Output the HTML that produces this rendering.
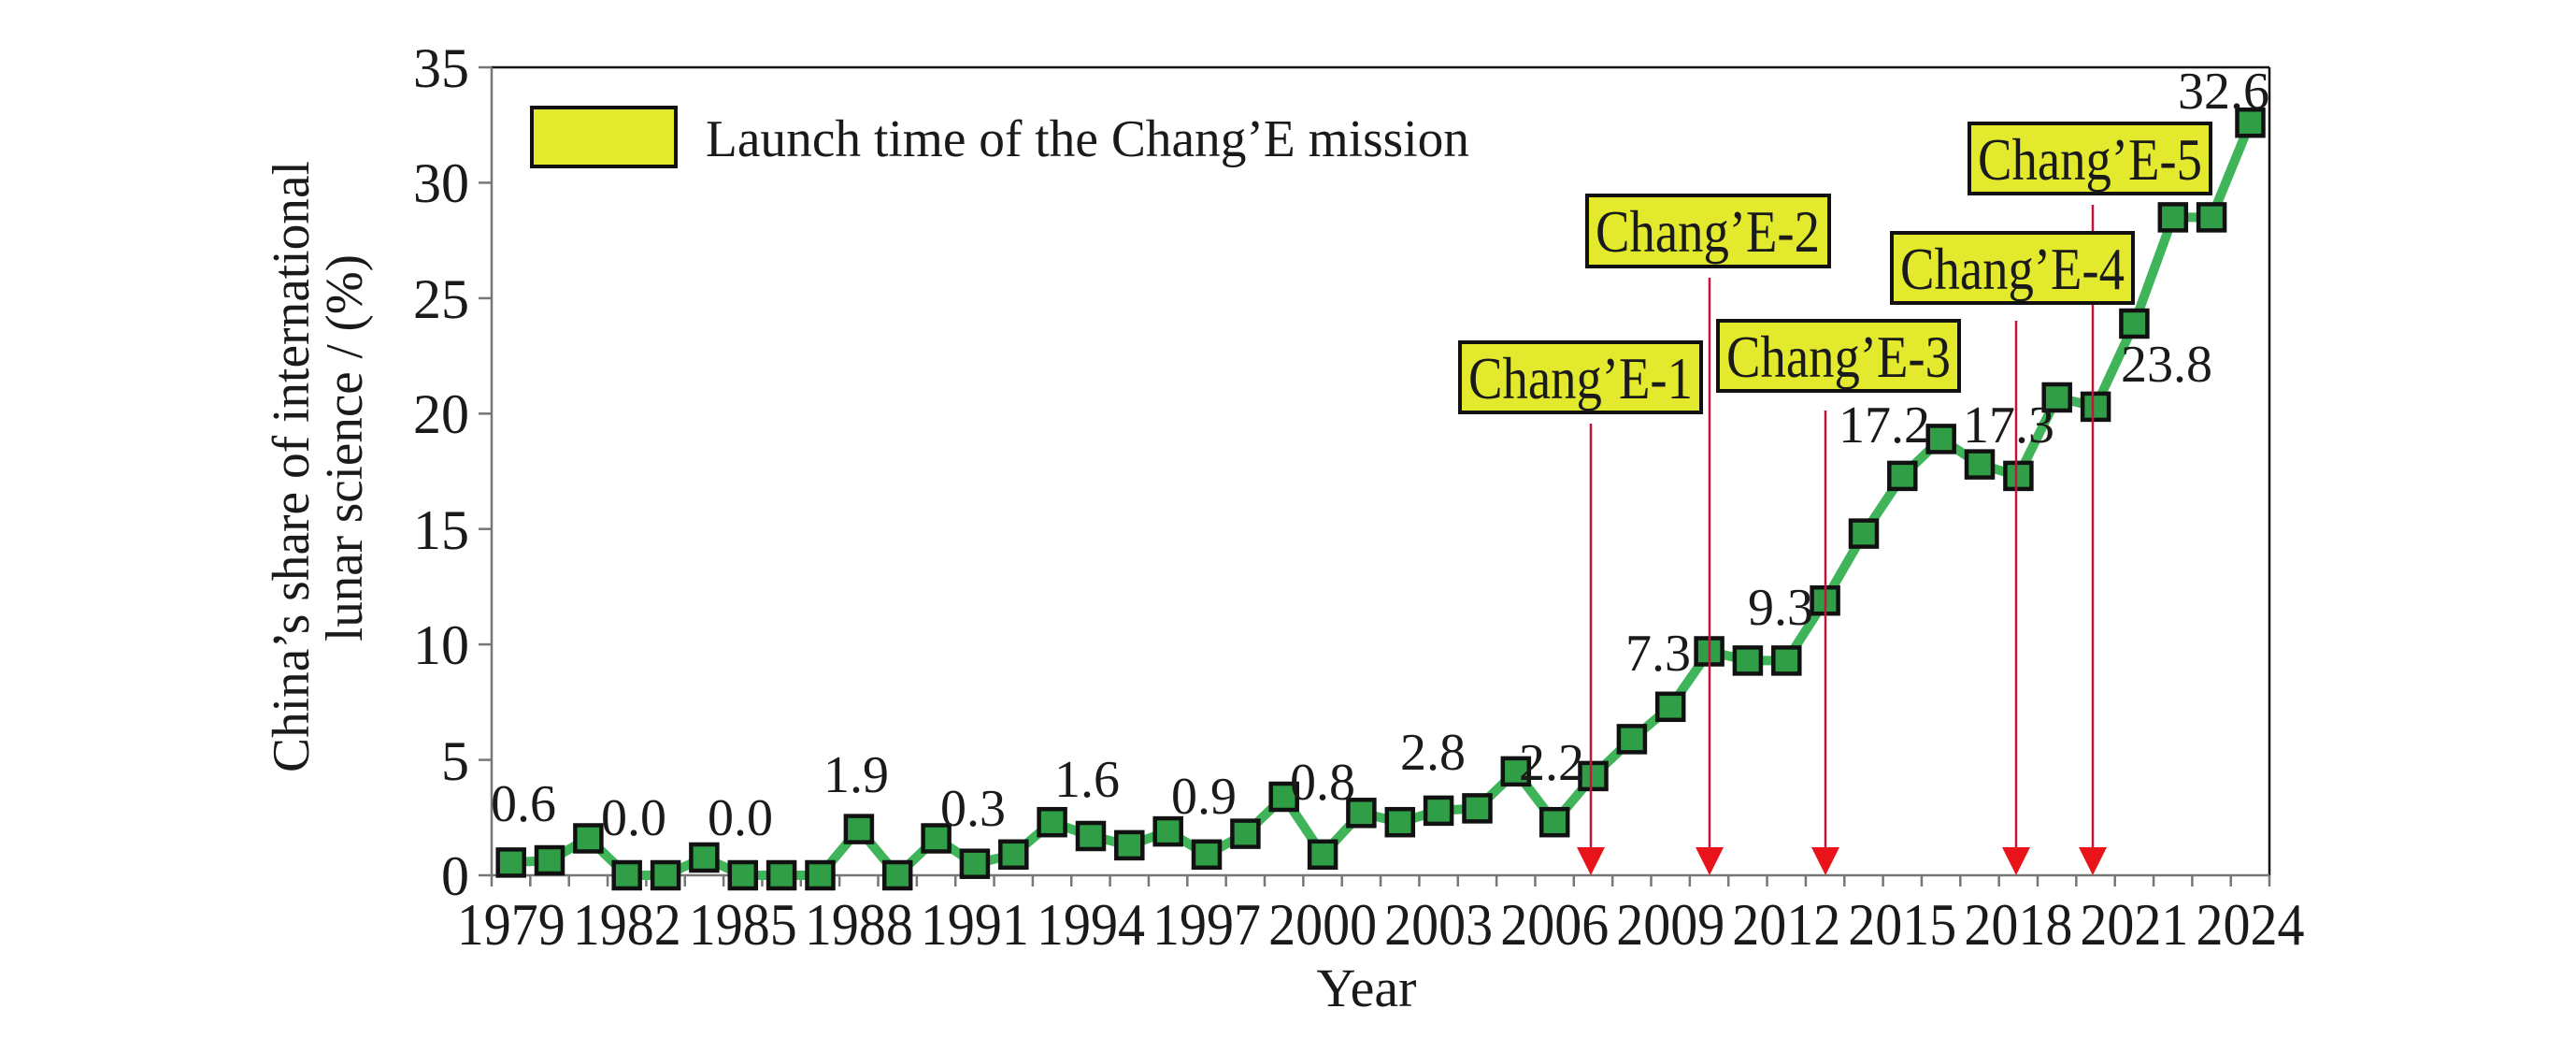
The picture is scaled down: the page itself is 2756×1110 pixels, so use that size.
<!DOCTYPE html>
<html><head><meta charset="utf-8"><style>
html,body{margin:0;padding:0;background:#fff;}
svg{display:block;}
text{font-family:"Liberation Serif",serif;fill:#1a1a1a;}
</style></head><body>
<svg width="2756" height="1110" viewBox="0 0 2756 1110" xmlns="http://www.w3.org/2000/svg">
<defs>
<rect id="m" x="-14" y="-14" width="28" height="28" fill="#2f9e47" stroke="#111" stroke-width="4.5"/>
</defs>
<line x1="526" y1="72" x2="2428" y2="72" stroke="#111" stroke-width="2.5"/>
<line x1="2428" y1="72" x2="2428" y2="936" stroke="#111" stroke-width="2.5"/>
<line x1="526" y1="72" x2="526" y2="936" stroke="#777" stroke-width="2.5"/>
<line x1="512" y1="936" x2="2428" y2="936" stroke="#777" stroke-width="2.5"/>
<g stroke="#777" stroke-width="2.5">
<line x1="512" y1="812.6" x2="526" y2="812.6"/><line x1="512" y1="689.1" x2="526" y2="689.1"/>
<line x1="512" y1="565.7" x2="526" y2="565.7"/><line x1="512" y1="442.3" x2="526" y2="442.3"/>
<line x1="512" y1="318.9" x2="526" y2="318.9"/><line x1="512" y1="195.4" x2="526" y2="195.4"/>
<line x1="512" y1="72" x2="526" y2="72"/>
</g>
<path stroke="#777" stroke-width="2.5" d="M526 936v12M567.35 936v12M608.7 936v12M650.05 936v12M691.4 936v12M732.75 936v12M774.1 936v12M815.45 936v12M856.8 936v12M898.15 936v12M939.5 936v12M980.85 936v12M1022.2 936v12M1063.55 936v12M1104.9 936v12M1146.25 936v12M1187.6 936v12M1228.95 936v12M1270.3 936v12M1311.65 936v12M1353 936v12M1394.35 936v12M1435.7 936v12M1477.05 936v12M1518.4 936v12M1559.75 936v12M1601.1 936v12M1642.45 936v12M1683.8 936v12M1725.15 936v12M1766.5 936v12M1807.85 936v12M1849.2 936v12M1890.55 936v12M1931.9 936v12M1973.25 936v12M2014.6 936v12M2055.95 936v12M2097.3 936v12M2138.65 936v12M2180 936v12M2221.35 936v12M2262.7 936v12M2304.05 936v12M2345.4 936v12M2386.75 936v12M2428 936v12"/>
<g font-size="60" text-anchor="end">
<text x="502" y="957">0</text><text x="502" y="834">5</text><text x="502" y="710">10</text>
<text x="502" y="587">15</text><text x="502" y="463">20</text><text x="502" y="340">25</text>
<text x="502" y="216">30</text><text x="502" y="93">35</text>
</g>
<g font-size="63" text-anchor="middle">
<text x="546.7" y="1010" textLength="116" lengthAdjust="spacingAndGlyphs">1979</text><text x="670.7" y="1010" textLength="116" lengthAdjust="spacingAndGlyphs">1982</text><text x="794.8" y="1010" textLength="116" lengthAdjust="spacingAndGlyphs">1985</text>
<text x="918.9" y="1010" textLength="116" lengthAdjust="spacingAndGlyphs">1988</text><text x="1042.9" y="1010" textLength="116" lengthAdjust="spacingAndGlyphs">1991</text><text x="1167" y="1010" textLength="116" lengthAdjust="spacingAndGlyphs">1994</text>
<text x="1291" y="1010" textLength="116" lengthAdjust="spacingAndGlyphs">1997</text><text x="1415.1" y="1010" textLength="116" lengthAdjust="spacingAndGlyphs">2000</text><text x="1539.1" y="1010" textLength="116" lengthAdjust="spacingAndGlyphs">2003</text>
<text x="1663.2" y="1010" textLength="116" lengthAdjust="spacingAndGlyphs">2006</text><text x="1787.2" y="1010" textLength="116" lengthAdjust="spacingAndGlyphs">2009</text><text x="1911.3" y="1010" textLength="116" lengthAdjust="spacingAndGlyphs">2012</text>
<text x="2035.3" y="1010" textLength="116" lengthAdjust="spacingAndGlyphs">2015</text><text x="2159.4" y="1010" textLength="116" lengthAdjust="spacingAndGlyphs">2018</text><text x="2283.4" y="1010" textLength="116" lengthAdjust="spacingAndGlyphs">2021</text>
<text x="2407.5" y="1010" textLength="116" lengthAdjust="spacingAndGlyphs">2024</text>
</g>
<text x="1462" y="1076" font-size="58" text-anchor="middle">Year</text>
<text transform="translate(330,499) rotate(-90)" font-size="56" text-anchor="middle" textLength="654" lengthAdjust="spacingAndGlyphs">China’s share of international</text>
<text transform="translate(387,479) rotate(-90)" font-size="56" text-anchor="middle" textLength="414" lengthAdjust="spacingAndGlyphs">lunar science / (%)</text>
<rect x="569" y="115" width="154" height="63" fill="#e3ea2e" stroke="#111" stroke-width="4"/>
<text x="755" y="167" font-size="56" textLength="817" lengthAdjust="spacingAndGlyphs">Launch time of the Chang’E mission</text>
<polyline fill="none" stroke="#3fb458" stroke-width="10" stroke-linejoin="round" points="546.7,922.4 588,920 629.4,896.5 670.7,936 712.1,936 753.4,917 794.8,936 836.1,936 877.5,936 918.9,886.6 960.2,936 1001.6,896.5 1042.9,923.7 1084.3,913.8 1125.6,879.2 1167,894 1208.3,903.9 1249.7,889.1 1291,913.8 1332.4,891.6 1373.7,852 1415.1,913.8 1456.4,869.3 1497.8,879.2 1539.1,866.9 1580.5,864.4 1621.8,824.9 1663.2,879.2 1704.5,829.9 1745.9,790.4 1787.2,755.8 1828.6,696.5 1869.9,706.4 1911.3,706.4 1952.6,642.2 1994,570.6 2035.3,508.9 2076.7,469.4 2118,496.6 2159.4,508.9 2200.7,425 2242.1,434.9 2283.4,346 2324.8,232.4 2366.1,232.4 2407.5,131.2"/>
<g>
<use href="#m" x="546.7" y="922.4"/><use href="#m" x="588" y="920"/><use href="#m" x="629.4" y="896.5"/><use href="#m" x="670.7" y="936"/><use href="#m" x="712.1" y="936"/><use href="#m" x="753.4" y="917"/><use href="#m" x="794.8" y="936"/><use href="#m" x="836.1" y="936"/><use href="#m" x="877.5" y="936"/><use href="#m" x="918.9" y="886.6"/><use href="#m" x="960.2" y="936"/><use href="#m" x="1001.6" y="896.5"/><use href="#m" x="1042.9" y="923.7"/><use href="#m" x="1084.3" y="913.8"/><use href="#m" x="1125.6" y="879.2"/><use href="#m" x="1167" y="894"/><use href="#m" x="1208.3" y="903.9"/><use href="#m" x="1249.7" y="889.1"/><use href="#m" x="1291" y="913.8"/><use href="#m" x="1332.4" y="891.6"/><use href="#m" x="1373.7" y="852"/><use href="#m" x="1415.1" y="913.8"/><use href="#m" x="1456.4" y="869.3"/><use href="#m" x="1497.8" y="879.2"/><use href="#m" x="1539.1" y="866.9"/><use href="#m" x="1580.5" y="864.4"/><use href="#m" x="1621.8" y="824.9"/><use href="#m" x="1663.2" y="879.2"/><use href="#m" x="1704.5" y="829.9"/><use href="#m" x="1745.9" y="790.4"/><use href="#m" x="1787.2" y="755.8"/><use href="#m" x="1828.6" y="696.5"/><use href="#m" x="1869.9" y="706.4"/><use href="#m" x="1911.3" y="706.4"/><use href="#m" x="1952.6" y="642.2"/><use href="#m" x="1994" y="570.6"/><use href="#m" x="2035.3" y="508.9"/><use href="#m" x="2076.7" y="469.4"/><use href="#m" x="2118" y="496.6"/><use href="#m" x="2159.4" y="508.9"/><use href="#m" x="2200.7" y="425"/><use href="#m" x="2242.1" y="434.9"/><use href="#m" x="2283.4" y="346"/><use href="#m" x="2324.8" y="232.4"/><use href="#m" x="2366.1" y="232.4"/><use href="#m" x="2407.5" y="131.2"/>
</g>
<g stroke="#c0143c" stroke-width="2.5">
<line x1="1702" y1="453" x2="1702" y2="910"/>
<line x1="1829" y1="297" x2="1829" y2="910"/>
<line x1="1953" y1="439" x2="1953" y2="910"/>
<line x1="2157" y1="343" x2="2157" y2="910"/>
<line x1="2239" y1="219" x2="2239" y2="910"/>
</g>
<g fill="#e8131b">
<polygon points="1687,906 1717,906 1702,936"/>
<polygon points="1814,906 1844,906 1829,936"/>
<polygon points="1938,906 1968,906 1953,936"/>
<polygon points="2142,906 2172,906 2157,936"/>
<polygon points="2224,906 2254,906 2239,936"/>
</g>
<g fill="#e3ea2e" stroke="#111" stroke-width="4">
<rect x="1562" y="366" width="258" height="75"/>
<rect x="1698" y="209" width="259" height="76"/>
<rect x="1838" y="343" width="258" height="75"/>
<rect x="2024" y="249" width="258" height="75"/>
<rect x="2107" y="132" width="258" height="75"/>
</g>
<g font-size="64" text-anchor="middle">
<text x="1691" y="426" textLength="240" lengthAdjust="spacingAndGlyphs">Chang’E-1</text>
<text x="1827" y="269" textLength="240" lengthAdjust="spacingAndGlyphs">Chang’E-2</text>
<text x="1967" y="403" textLength="240" lengthAdjust="spacingAndGlyphs">Chang’E-3</text>
<text x="2153" y="309" textLength="240" lengthAdjust="spacingAndGlyphs">Chang’E-4</text>
<text x="2236" y="192" textLength="240" lengthAdjust="spacingAndGlyphs">Chang’E-5</text>
</g>
<g font-size="56" text-anchor="middle">
<text x="560" y="878">0.6</text>
<text x="678" y="893">0.0</text>
<text x="792" y="893">0.0</text>
<text x="916" y="847">1.9</text>
<text x="1041" y="883">0.3</text>
<text x="1163" y="852">1.6</text>
<text x="1288" y="870">0.9</text>
<text x="1415" y="855">0.8</text>
<text x="1533" y="823">2.8</text>
<text x="1660" y="834">2.2</text>
<text x="1774" y="717">7.3</text>
<text x="1905" y="668">9.3</text>
<text x="2016" y="473">17.2</text>
<text x="2149" y="473">17.3</text>
<text x="2318" y="408">23.8</text>
<text x="2379" y="116">32.6</text>
</g>
</svg>
</body></html>
